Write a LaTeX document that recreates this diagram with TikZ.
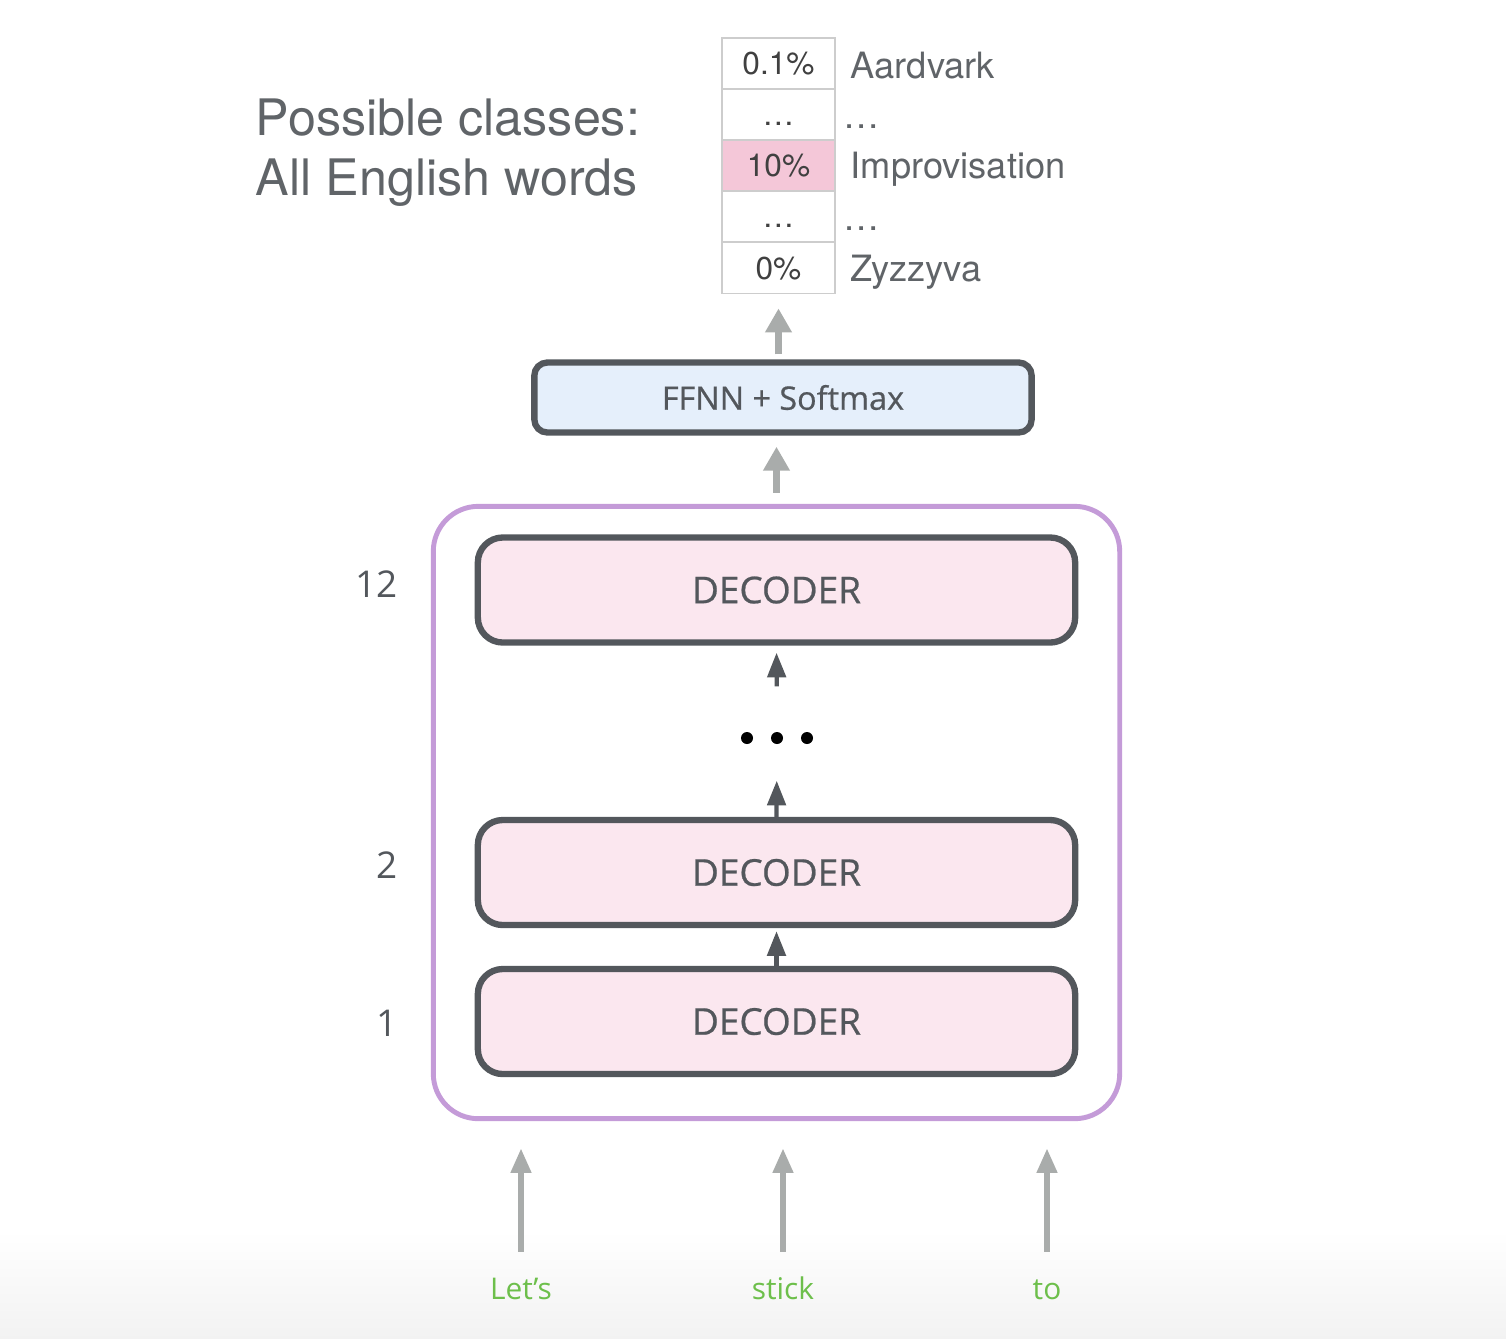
\documentclass[tikz,border=0pt]{standalone}
\usepackage{fontspec}
\setmainfont{Open Sans}
\newfontfamily\thinfont{TeX Gyre Heros}
\newfontfamily\boxfont[FakeBold=0.6]{Open Sans}
\usepackage{tikz}
\usetikzlibrary{arrows.meta}
\definecolor{darkline}{HTML}{53575C}
\definecolor{greyarrow}{HTML}{A9ACAB}
\definecolor{stackpurple}{HTML}{C49BD8}
\definecolor{decfill}{HTML}{FBE7EF}
\definecolor{ffnnfill}{HTML}{E5EFFB}
\definecolor{probpink}{HTML}{F4C7D8}
\definecolor{cellline}{HTML}{CDCDCD}
\definecolor{wordgreen}{HTML}{6DBF4B}
\definecolor{lighttext}{HTML}{606468}

\begin{document}
\begin{tikzpicture}[x=0.01cm,y=-0.01cm,
    decoder/.style={draw=darkline,line width=1.8pt,fill=decfill,rounded corners=0.25cm,minimum width=5.97cm,minimum height=1.05cm,text=darkline,font=\boxfont\fontsize{10.5}{12}\selectfont},
    cell/.style={draw=cellline,line width=0.5pt,minimum width=1.13cm,minimum height=0.51cm,inner sep=0pt,text height=6.5pt,text depth=0pt,text=black!75,font=\thinfont\fontsize{9}{11}\selectfont},
    vocab/.style={anchor=base west,inner sep=0pt,text=lighttext,font=\thinfont\fontsize{10.3}{12}\selectfont},
    layer/.style={anchor=base east,inner sep=0pt,text=darkline,font=\fontsize{10.5}{12}\selectfont},
    token/.style={inner sep=0pt,text height=6.5pt,text depth=0pt,text=wordgreen,font=\fontsize{8.5}{10}\selectfont},
    dot/.style={circle,fill=black,inner sep=0pt,minimum size=0.12cm},
    greyup/.style={draw=greyarrow,line width=2pt,-{Triangle[length=6.8pt,width=7.2pt]}},
    inputup/.style={draw=greyarrow,line width=1.7pt,-{Triangle[length=7pt,width=5.5pt]}},
    darkup/.style={draw=darkline,line width=1.2pt,-{Triangle[length=7pt,width=5.2pt]}}]
    \useasboundingbox (0,0) rectangle (1506,1338);
    \shade[top color=white,bottom color=black!5] (0,1230) rectangle (1506,1338);

    % classes
    \node[anchor=base west,inner sep=0pt,text=lighttext,font=\thinfont\fontsize{14.3}{17}\selectfont] (cls1) at (255,135) {Possible classes:};
    \node[anchor=base west,inner sep=0pt,text=lighttext,font=\thinfont\fontsize{14.3}{17}\selectfont] (cls2) at (255,195) {All English words};

    % output probabilities
    \node[cell] (p1) at (778.5,63.5) {0.1\%};
    \node[cell] (p2) at (778.5,114.5) {\dots};
    \node[cell,fill=probpink] (p3) at (778.5,165.5) {10\%};
    \node[cell] (p4) at (778.5,216.5) {\dots};
    \node[cell] (p5) at (778.5,268) {0\%};
    \node[vocab] (v1) at (850,78) {Aardvark};
    \node[vocab] (v2) at (843,128) {\dots};
    \node[vocab] (v3) at (850,178) {Improvisation};
    \node[vocab] (v4) at (843,230) {\dots};
    \node[vocab] (v5) at (850,281) {Zyzzyva};

    % head
    \node[draw=darkline,line width=1.8pt,fill=ffnnfill,rounded corners=0.13cm,minimum width=4.97cm,minimum height=0.7cm,text=darkline,font=\boxfont\fontsize{9.2}{11}\selectfont] (ffnn) at (783,397.5) {FFNN + Softmax};

    % decoder stack
    \node[draw=stackpurple,line width=1.4pt,rounded corners=0.45cm,minimum width=6.86cm,minimum height=6.12cm] (stack) at (776.5,812.5) {};
    \node[decoder] (dec12) at (776.5,590) {DECODER};
    \node[decoder] (dec2) at (776.5,872.5) {DECODER};
    \node[decoder] (dec1) at (776.5,1021.5) {DECODER};
    \node[dot] (dl) at (747,738) {};
    \node[dot] (dm) at (777,738) {};
    \node[dot] (dr) at (807,738) {};
    \node[layer] (n12) at (398,597) {12};
    \node[layer] (n2) at (398,878) {2};
    \node[layer] (n1) at (398,1036) {1};

    % inputs
    \node[token] (w1) at (521,1288) {Let’s};
    \node[token] (w2) at (783,1288) {stick};
    \node[token] (w3) at (1047,1288) {to};

    \draw[greyup,shorten <=0.05cm,shorten >=0.14cm] (ffnn.north -| p5.south) -- (p5.south);
    \draw[greyup,shorten <=0.11cm,shorten >=0.11cm] (stack.north) -- (stack.north |- ffnn.south);
    \draw[darkup,shorten >=0.03cm] (dec1.north) -- (dec2.south);
    \draw[darkup,shorten >=0.36cm] (dec2.north) -- (dm);
    \draw[darkup,shorten <=0.45cm,shorten >=0.07cm] (dm) -- (dec12.south);
    \draw[inputup,shorten <=0.24cm,shorten >=0.27cm] (w1) -- (w1 |- stack.south);
    \draw[inputup,shorten <=0.24cm,shorten >=0.27cm] (w2) -- (w2 |- stack.south);
    \draw[inputup,shorten <=0.24cm,shorten >=0.27cm] (w3) -- (w3 |- stack.south);
\end{tikzpicture}
\end{document}
